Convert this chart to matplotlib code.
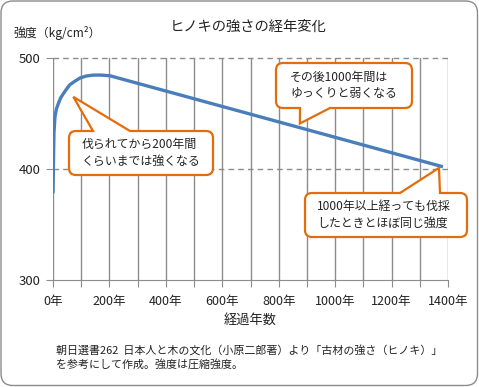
import numpy as np
import matplotlib.pyplot as plt
from matplotlib.path import Path
from matplotlib.patches import PathPatch
from matplotlib.transforms import IdentityTransform

plt.rcParams['font.family'] = ['Noto Sans CJK JP', 'DejaVu Sans']

# data
years = [0, 1, 2, 3.5, 7, 12, 19, 27, 37, 48, 60, 77, 96, 118, 143, 170, 202, 1382]
strength = [378, 395, 412, 433, 447, 454, 459, 464, 468, 472, 476, 479, 482, 483.8, 484.6, 484.6, 484, 402]
xticks = list(range(0, 1401, 200))
xticklabels = [f'{t}年' for t in xticks]
yticks = [300, 400, 500]

W, H = 479, 387
fig = plt.figure(figsize=(W / 100, H / 100), dpi=100)
ax = fig.add_axes([53 / W, 1 - 280 / H, 395 / W, 222 / H])

gray = '#8c8c8c'
ax.plot(years, strength, color='#4a7ebb', lw=2.4, solid_capstyle='butt', zorder=3)
ax.set_xlim(0, 1400)
ax.set_ylim(300, 500)
for x in range(0, 1401, 100):
    ax.axvline(x, color=gray, lw=1.0, zorder=1)
for y in [400, 500]:
    ax.axhline(y, color=gray, lw=1.0, ls=(0, (4, 3)), zorder=1, clip_on=False)
for s in ['left', 'right', 'top']:
    ax.spines[s].set_visible(False)
ax.spines['bottom'].set_color(gray)
ax.set_xticks(range(0, 1401, 100))
ax.set_xticklabels([f'{t}年' if t % 200 == 0 else '' for t in range(0, 1401, 100)])
ax.set_yticks(yticks)
ax.tick_params(axis='x', length=5, color=gray, labelsize=9, pad=6, labelcolor='#222222')
ax.tick_params(axis='y', length=5, color=gray, labelsize=9.5, pad=4, labelcolor='#222222')
ax.set_xlabel('経過年数', fontsize=9.5, color='#222222', labelpad=4)

fig.text(248 / W, 1 - 27 / H, 'ヒノキの強さの経年変化', ha='center', va='center', fontsize=10.3, color='#222222')
fig.text(13 / W, 1 - 33 / H, '強度（kg/cm²）', ha='left', va='center', fontsize=8.6, color='#222222')
fig.text(56 / W, 1 - 357 / H, '朝日選書262  日本人と木の文化（小原二郎著）より「古材の強さ（ヒノキ）」\nを参考にして作成。強度は圧縮強度。',
         ha='left', va='center', fontsize=7.9, color='#222222', linespacing=1.4)


def rounded(x0, y0, x1, y1, r, tip=None, base=None, edge=None):
    # pixel coords, y pointing down
    v = [(x0 + r, y0)]
    c = [Path.MOVETO]
    if edge == 'top':
        v += [(base[0], y0), tip, (base[1], y0)]
        c += [Path.LINETO] * 3
    v += [(x1 - r, y0), (x1, y0), (x1, y0 + r), (x1, y1 - r), (x1, y1), (x1 - r, y1)]
    c += [Path.LINETO, Path.CURVE3, Path.CURVE3, Path.LINETO, Path.CURVE3, Path.CURVE3]
    if edge == 'bottom':
        v += [(base[1], y1), tip, (base[0], y1)]
        c += [Path.LINETO] * 3
    v += [(x0 + r, y1), (x0, y1), (x0, y1 - r), (x0, y0 + r), (x0, y0), (x0 + r, y0)]
    c += [Path.LINETO, Path.CURVE3, Path.CURVE3, Path.LINETO, Path.CURVE3, Path.CURVE3]
    v = [(a, H - b) for a, b in v]
    return Path(v, c)


def to_px(x, y):
    X, Y = ax.transData.transform((x, y))
    return (X, H - Y)


orange = '#e46c0a'
callouts = [
    ((69, 131, 213, 175), to_px(72, 465), (93, 130), 'top', '伐られてから200年間\nくらいまでは強くなる', 82),
    ((276, 63, 412, 108), to_px(875, 441), (300, 330), 'bottom', 'その後1000年間は\nゆっくりと弱くなる', 290),
    ((305, 193, 467, 237), to_px(1368, 401), (400, 440), 'top', '1000年以上経っても伐採\nしたときとほぼ同じ強度', 317),
]
for (x0, y0, x1, y1), tip, base, edge, txt, tx in callouts:
    p = PathPatch(rounded(x0, y0, x1, y1, 7, tip, base, edge), transform=IdentityTransform(),
                  facecolor='white', edgecolor=orange, lw=1.6, zorder=5)
    fig.patches.append(p)
    fig.text(tx / W, 1 - (y0 + y1) / 2 / H, txt, ha='left', va='center', fontsize=8.6,
             color='#222222', linespacing=1.35, zorder=6)

border = PathPatch(rounded(1, 1, W - 1.5, H - 1.5, 12), transform=IdentityTransform(),
                   facecolor='none', edgecolor='#8c8c8c', lw=1.0, zorder=0)
fig.patches.append(border)

fig.savefig('out.png', dpi=100)
plt.close()
